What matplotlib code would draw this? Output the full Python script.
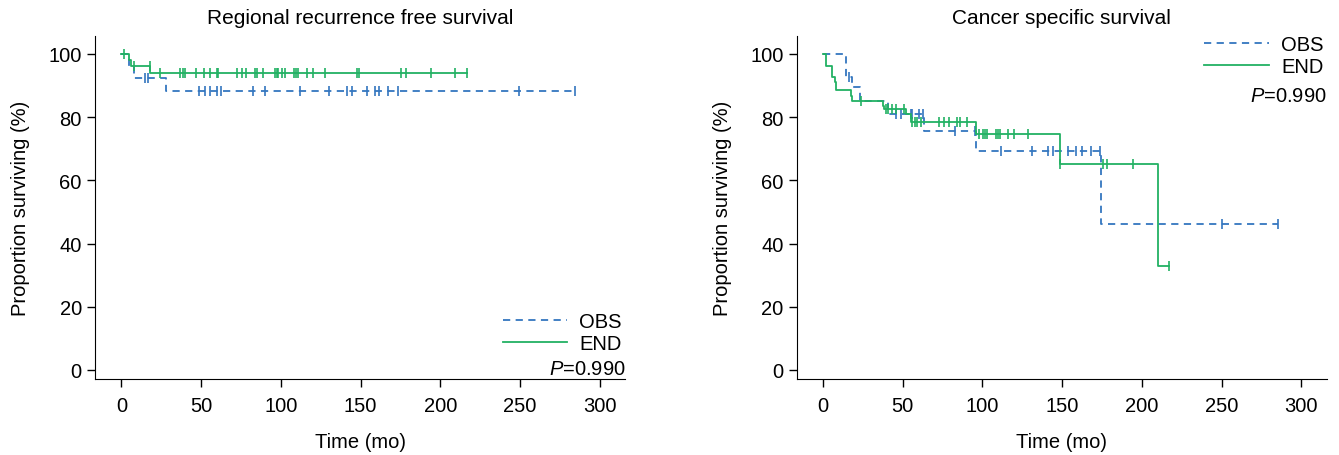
import numpy as np
import matplotlib.pyplot as plt
from matplotlib.lines import Line2D

plt.rcParams['font.family'] = ['Liberation Sans', 'DejaVu Sans']
plt.rcParams['mathtext.fontset'] = 'custom'
plt.rcParams['mathtext.it'] = 'Liberation Sans:italic'

BLUE = '#3476bf'
GREEN = '#22b163'

# --- Regional recurrence free survival ---
rfs_obs_t = [0, 5, 8, 28]
rfs_obs_s = [100, 96, 92.5, 88.2]
rfs_obs_end = 284.3
rfs_obs_cens = [15, 16.5, 48.4, 52.6, 55.3, 59.9, 62.4, 82.8, 90.2, 112.1, 130.4,
                141.3, 144.5, 154, 159, 161.8, 167.4, 173.6, 249.4, 284.3]

rfs_end_t = [0, 4.6, 6, 18.2]
rfs_end_s = [100, 98.2, 96.2, 94.0]
rfs_end_end = 216.5
rfs_end_cens = [1.5, 7.7, 17.7, 24.4, 36.9, 38.4, 39.9, 47, 52, 55.3, 59.9, 60.7,
                72.4, 75.6, 78.3, 83.9, 85, 89.1, 96.4, 97.5, 98.5, 100.6, 102.7,
                108.3, 109.6, 111, 116.5, 120.2, 127.9, 147.8, 149.2, 175.1, 178.5,
                193.9, 209.1, 216.5]

# --- Cancer specific survival ---
css_obs_t = [0, 14.5, 18, 23.5, 41, 63.4, 96, 174.3]
css_obs_s = [100, 92.6, 89.4, 85.2, 81.0, 75.5, 69.3, 46.2]
css_obs_end = 285.2
css_obs_cens = [16, 45.6, 48.7, 55, 56, 60.5, 62.4, 82.9, 95.5, 111.5, 131, 140.8,
                144.3, 153.8, 158.8, 162.2, 167.8, 173.5, 250.2, 285.2]

css_end_t = [0, 1.7, 5.8, 7.3, 8.4, 17.4, 18, 37.3, 38.3, 52, 55.4, 96.2, 148.3, 209.9]
css_end_s = [100, 96.3, 92.6, 91.0, 88.7, 86.8, 85.0, 83.6, 82.6, 81.0, 78.4, 74.7, 65.2, 32.8]
css_end_end = 216.7
css_end_cens = [23.7, 39.4, 40.8, 43.5, 45.6, 50.8, 56, 57.7, 59.2, 61.3, 72.8, 75.9,
                79.1, 84.3, 86, 90.2, 98, 100.4, 101.7, 103.1, 108.3, 109.7, 111, 116.3,
                119.9, 128.3, 148.6, 175.3, 177.8, 194.3, 216.7]


def km(ax, t, s, t_end, cens, color, ls):
    tt = list(t) + [t_end]
    ss = list(s) + [s[-1]]
    ax.step(tt, ss, where='post', color=color, ls=ls, lw=1.3,
            dashes=(4, 3) if ls == '--' else (None, None))
    idx = np.searchsorted(t, cens, side='right') - 1
    ys = np.array(s)[idx]
    ax.plot(cens, ys, ls='none', marker='|', ms=7, mew=1.2, color=color)


fig = plt.figure(figsize=(13.39, 4.56), dpi=100)
ax1 = fig.add_axes([0.071, 0.167, 0.396, 0.752])
ax2 = fig.add_axes([0.595, 0.167, 0.396, 0.752])

km(ax1, rfs_obs_t, rfs_obs_s, rfs_obs_end, rfs_obs_cens, BLUE, '--')
km(ax1, rfs_end_t, rfs_end_s, rfs_end_end, rfs_end_cens, GREEN, '-')
km(ax2, css_obs_t, css_obs_s, css_obs_end, css_obs_cens, BLUE, '--')
km(ax2, css_end_t, css_end_s, css_end_end, css_end_cens, GREEN, '-')

handles = [Line2D([], [], color=BLUE, lw=1.3, dashes=(4, 3)),
           Line2D([], [], color=GREEN, lw=1.3)]

FS = 14.5
for ax, title, loc, bb, py in [(ax1, 'Regional recurrence free survival', 'lower right', (1.02, 0.035), 0.003),
                               (ax2, 'Cancer specific survival', 'upper right', (1.02, 1.045), 0.8)]:
    ax.set_xlim(-16.5, 316)
    ax.set_ylim(-2.8, 105.7)
    ax.set_xticks([0, 50, 100, 150, 200, 250, 300])
    ax.set_yticks([0, 20, 40, 60, 80, 100])
    ax.spines['top'].set_visible(False)
    ax.spines['right'].set_visible(False)
    ax.tick_params(direction='out', length=5.5, labelsize=FS, width=1, pad=4)
    ax.tick_params(axis='x', pad=7)
    ax.set_xlabel('Time (mo)', fontsize=FS, labelpad=12)
    ax.set_ylabel('Proportion surviving (%)', fontsize=FS, labelpad=13)
    ax.set_title(title, fontsize=15, pad=9)
    ax.legend(handles, ['OBS', 'END'], loc=loc, bbox_to_anchor=bb, frameon=False,
              fontsize=FS, handlelength=3.2, handletextpad=0.6, labelspacing=0.15,
              borderpad=0.2)
    ax.text(1.0, py, r'$P$=0.990', transform=ax.transAxes, ha='right', va='bottom',
            fontsize=FS)

fig.savefig('out.png', dpi=100)
